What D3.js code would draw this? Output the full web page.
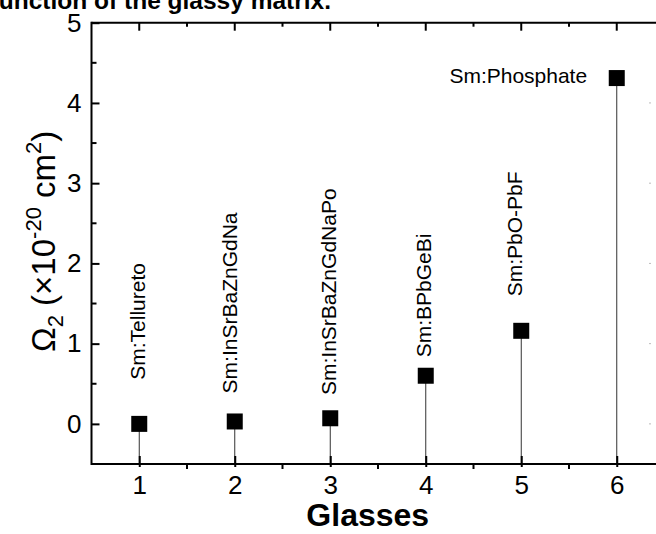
<!DOCTYPE html>
<html>
<head>
<meta charset="utf-8">
<script src="https://cdn.jsdelivr.net/npm/d3@7"></script>
<style>
  html, body { margin: 0; padding: 0; background: #fff; }
  svg { display: block; font-family: Arial, "Liberation Sans", sans-serif; }
</style>
</head>
<body>
<svg id="chart" width="656" height="534"></svg>
<script>
// Glass index on the x axis and the Judd-Ofelt Ω2 parameter of each Sm-doped glass
const glasses = [1, 2, 3, 4, 5, 6];
const omega2 = [0.00, 0.03, 0.07, 0.60, 1.16, 4.31];
const glassNames = ["Sm:Tellureto", "Sm:InSrBaZnGdNa", "Sm:InSrBaZnGdNaPo", "Sm:BPbGeBi", "Sm:PbO-PbF", "Sm:Phosphate"];
// where each name is written, in data units (x, y of the text start; end for the horizontal one)
const nameX = [0.98, 1.95, 2.98, 3.98, 4.93, 5.69];
const nameY = [0.55, 0.38, 0.36, 0.83, 1.59, 4.25];
const nameRotated = [true, true, true, true, true, false];
const xTicks = [1, 2, 3, 4, 5, 6];
const yTicks = [0, 1, 2, 3, 4, 5];

(function draw() {
  const W = 656, H = 534;
  const svg = d3.select("#chart");
  svg.append("rect").attr("width", W).attr("height", H).attr("fill", "#fff");

  const x = d3.scaleLinear().domain([0.5, 6.5]).range([91.5, 664.5]);
  const y = d3.scaleLinear().domain([-0.5, 5]).range([464, 22.7]);
  const pL = x(0.5), pR = W, pT = y(5), pB = y(-0.5);

  // title, partly above the top edge of the page
  svg.append("text")
    .attr("x", 331).attr("y", 8.5)
    .attr("text-anchor", "end")
    .attr("font-weight", "bold")
    .attr("font-size", 24.5)
    .text("function of the glassy matrix.");

  // stems from each point down to the bottom axis
  svg.append("g").selectAll("line")
    .data(glasses)
    .join("line")
    .attr("x1", d => x(d)).attr("x2", d => x(d))
    .attr("y1", (d, i) => y(omega2[i])).attr("y2", pB)
    .attr("stroke", "#333").attr("stroke-width", 1);

  // square markers
  const S = 16;
  svg.append("g").selectAll("rect")
    .data(glasses)
    .join("rect")
    .attr("x", d => x(d) - S / 2)
    .attr("y", (d, i) => y(omega2[i]) - S / 2)
    .attr("width", S).attr("height", S)
    .attr("fill", "#000");

  // glass names
  svg.append("g").selectAll("text")
    .data(glassNames)
    .join("text")
    .attr("font-size", 21)
    .attr("transform", (d, i) => nameRotated[i]
      ? `translate(${x(nameX[i])},${y(nameY[i])}) rotate(-90)`
      : `translate(${x(nameX[i])},${y(nameY[i])})`)
    .attr("dy", (d, i) => nameRotated[i] ? "0.35em" : "0")
    .attr("text-anchor", (d, i) => nameRotated[i] ? "start" : "end")
    .text(d => d);

  // frame lines
  const frame = svg.append("g").attr("stroke", "#000").attr("stroke-width", 2).attr("fill", "none");
  frame.append("line").attr("x1", pL).attr("x2", pR).attr("y1", pT).attr("y2", pT);
  frame.append("line").attr("x1", pL).attr("x2", pR).attr("y1", pB).attr("y2", pB);
  frame.append("line").attr("x1", pL).attr("x2", pL).attr("y1", pT - 1).attr("y2", pB + 1);

  const halfX = d3.range(1.5, 6.5, 1);
  const halfY = d3.range(0.5, 5, 1);

  // left axis: major ticks inward
  const yAxis = d3.axisLeft(y).tickValues(yTicks).tickFormat(d3.format("d"))
    .tickSizeInner(-8).tickSizeOuter(0).tickPadding(10);
  const gy = svg.append("g").attr("transform", `translate(${pL},0)`).call(yAxis);
  gy.select(".domain").remove();
  gy.selectAll(".tick line").attr("stroke-width", 2);
  gy.selectAll(".tick text").attr("font-size", 26).attr("fill", "#000").attr("font-family", "Arial, 'Liberation Sans', sans-serif");
  svg.append("g").selectAll("line").data(halfY).join("line")
    .attr("x1", pL).attr("x2", pL + 5)
    .attr("y1", d => y(d)).attr("y2", d => y(d))
    .attr("stroke", "#000").attr("stroke-width", 2);

  // bottom axis: major ticks inward, half-unit ticks outward
  const xAxis = d3.axisBottom(x).tickValues(xTicks).tickFormat(d3.format("d"))
    .tickSizeInner(-8).tickSizeOuter(0).tickPadding(12);
  const gx = svg.append("g").attr("transform", `translate(0,${pB})`).call(xAxis);
  gx.select(".domain").remove();
  gx.selectAll(".tick line").attr("stroke-width", 2).attr("y2", -8).attr("y1", 3);
  gx.selectAll(".tick text").attr("font-size", 26).attr("fill", "#000").attr("font-family", "Arial, 'Liberation Sans', sans-serif");
  svg.append("g").selectAll("line").data(halfX).join("line")
    .attr("x1", d => x(d)).attr("x2", d => x(d))
    .attr("y1", pB).attr("y2", pB + 5)
    .attr("stroke", "#000").attr("stroke-width", 2);

  // top axis: ticks inward at every half unit
  svg.append("g").selectAll("line").data(d3.range(1, 6.5, 0.5)).join("line")
    .attr("x1", d => x(d)).attr("x2", d => x(d))
    .attr("y1", pT).attr("y2", d => pT + (Number.isInteger(d) ? 8 : 4))
    .attr("stroke", "#000").attr("stroke-width", 2);

  // faint ends of the right-hand ticks at the page edge
  svg.append("g").selectAll("line").data([0, 1, 2, 3, 4]).join("line")
    .attr("x1", 649).attr("x2", 651)
    .attr("y1", d => y(d)).attr("y2", d => y(d))
    .attr("stroke", "#bbb").attr("stroke-width", 1);

  // axis titles
  svg.append("text")
    .attr("x", (pL + 656) / 2 - 6).attr("y", 526)
    .attr("text-anchor", "middle")
    .attr("font-weight", "bold").attr("font-size", 32)
    .text("Glasses");

  const yl = svg.append("text")
    .attr("transform", `translate(55,${(pT + pB) / 2 - 2}) rotate(-90)`)
    .attr("text-anchor", "middle")
    .attr("font-size", 33);
  yl.append("tspan").text("Ω");
  yl.append("tspan").attr("font-size", 22).attr("dy", 8).text("2");
  yl.append("tspan").attr("dy", -8).text(" (×10");
  yl.append("tspan").attr("font-size", 22).attr("dy", -14).text("-20");
  yl.append("tspan").attr("dy", 14).text(" cm");
  yl.append("tspan").attr("font-size", 22).attr("dy", -14).text("2");
  yl.append("tspan").attr("dy", 14).text(")");
})();
</script>
</body>
</html>
